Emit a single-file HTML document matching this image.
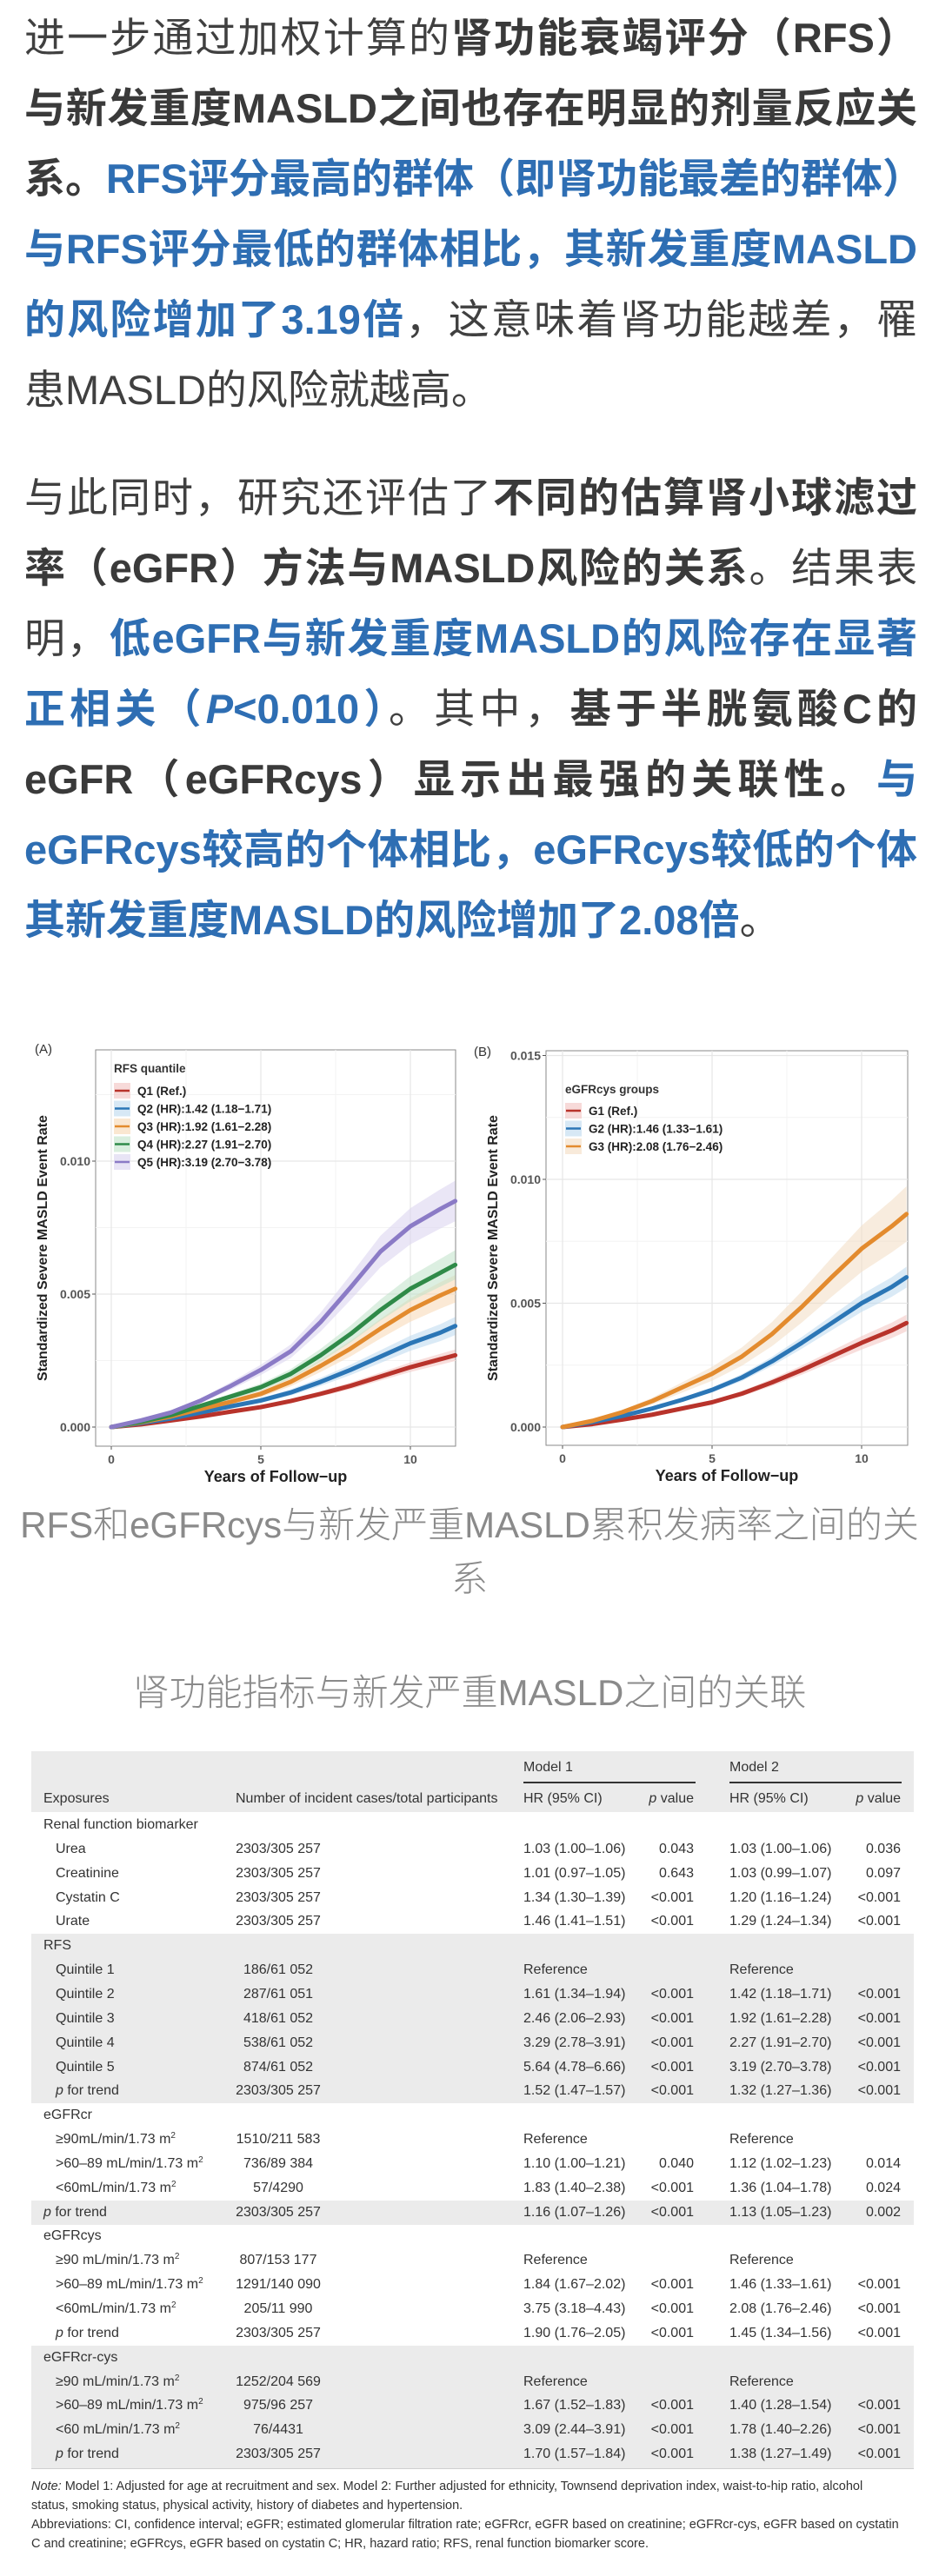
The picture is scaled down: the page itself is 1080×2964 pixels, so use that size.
<!DOCTYPE html>
<html><head><meta charset="utf-8">
<style>
html,body{margin:0;padding:0;background:#fff}
body{width:1080px;height:2964px;position:relative;overflow:hidden;font-family:"Liberation Sans","Noto Sans CJK SC",sans-serif}
.ln{position:absolute;left:28px;width:1027px;height:81px;line-height:81px;font-size:47px;color:#404040;white-space:nowrap;font-family:"Liberation Sans","Noto Sans CJK SC",sans-serif}
.j{text-align:justify;text-align-last:justify}
b{font-weight:bold;color:#3a3a3a}
.bl{color:#2e6eb3;font-weight:bold}
.cap{position:absolute;left:0;width:1080px;text-align:center;font-size:42px;color:#8a8a8a;font-family:"Liberation Sans","Noto Sans CJK SC",sans-serif;font-weight:300}
.t{position:absolute;font-family:"Liberation Sans Narrow","Liberation Sans",sans-serif;font-size:16px;color:#333;white-space:nowrap;line-height:20px;height:20px}
.t sup{font-size:10px;line-height:0;position:relative;top:-6px;vertical-align:baseline}
.shade{position:absolute;left:36px;width:1015px;background:#ebebeb}
.note{position:absolute;left:36px;font-family:"Liberation Sans Narrow","Liberation Sans",sans-serif;font-size:14.5px;color:#333;white-space:nowrap;line-height:20px}
</style></head><body>
<div>
<div class="ln j" style="top:3px">进一步通过加权计算的<b>肾功能衰竭评分（RFS）</b></div>
<div class="ln j" style="top:84px"><b>与新发重度MASLD之间也存在明显的剂量反应关</b></div>
<div class="ln j" style="top:165px"><b>系。</b><span class="bl">RFS评分最高的群体（即肾功能最差的群体）</span></div>
<div class="ln j" style="top:246px"><span class="bl">与RFS评分最低的群体相比，其新发重度MASLD</span></div>
<div class="ln j" style="top:327px"><span class="bl">的风险增加了3.19倍</span>，这意味着肾功能越差，罹</div>
<div class="ln" style="top:408px">患MASLD的风险就越高。</div>
</div>
<div>
<div class="ln j" style="top:532px">与此同时，研究还评估了<b>不同的估算肾小球滤过</b></div>
<div class="ln j" style="top:613px"><b>率（eGFR）方法与MASLD风险的关系</b>。结果表</div>
<div class="ln j" style="top:694px">明，<span class="bl">低eGFR与新发重度MASLD的风险存在显著</span></div>
<div class="ln j" style="top:775px"><span class="bl">正相关（<i>P</i>&lt;0.010）</span>。其中，<b>基于半胱氨酸C的</b></div>
<div class="ln j" style="top:856px"><b>eGFR（eGFRcys）显示出最强的关联性。</b><span class="bl">与</span></div>
<div class="ln j" style="top:937px"><span class="bl">eGFRcys较高的个体相比，eGFRcys较低的个体</span></div>
<div class="ln" style="top:1018px"><span class="bl">其新发重度MASLD的风险增加了2.08倍</span>。</div>
</div>

<svg id="charts" width="1080" height="1720" style="position:absolute;left:0;top:0" xmlns="http://www.w3.org/2000/svg"></svg>

<div class="cap" style="top:1724px;line-height:62px">RFS和eGFRcys与新发严重MASLD累积发病率之间的关<br>系</div>
<div class="cap" style="top:1917px;line-height:62px">肾功能指标与新发严重MASLD之间的关联</div>

<div id="table"></div>

<div class="note" style="top:2851px"><i>Note:</i> Model 1: Adjusted for age at recruitment and sex. Model 2: Further adjusted for ethnicity, Townsend deprivation index, waist-to-hip ratio, alcohol</div>
<div class="note" style="top:2873px">status, smoking status, physical activity, history of diabetes and hypertension.</div>
<div class="note" style="top:2895px">Abbreviations: CI, confidence interval; eGFR; estimated glomerular filtration rate; eGFRcr, eGFR based on creatinine; eGFRcr-cys, eGFR based on cystatin</div>
<div class="note" style="top:2917px">C and creatinine; eGFRcys, eGFR based on cystatin C; HR, hazard ratio; RFS, renal function biomarker score.</div>

<script>
// ---- chart data ----
const years = [0,1,2,3,4,5,6,7,8,9,10,11,11.5];
const seriesA_Q1 = [0,0.10,0.25,0.40,0.58,0.75,0.98,1.25,1.55,1.90,2.25,2.55,2.70];
const seriesA_Q2 = [0,0.15,0.32,0.55,0.78,1.00,1.30,1.70,2.15,2.65,3.15,3.55,3.80];
const seriesA_Q3 = [0,0.18,0.40,0.68,0.95,1.25,1.70,2.30,2.95,3.70,4.40,4.95,5.20];
const seriesA_Q4 = [0,0.20,0.45,0.80,1.15,1.50,2.00,2.70,3.50,4.40,5.20,5.80,6.10];
const seriesA_Q5 = [0,0.25,0.55,1.00,1.55,2.15,2.85,3.95,5.25,6.60,7.55,8.20,8.50];
const seriesB_G1 = [0,0.12,0.30,0.50,0.75,1.00,1.35,1.80,2.30,2.85,3.40,3.90,4.20];
const seriesB_G2 = [0,0.20,0.45,0.75,1.10,1.50,2.00,2.65,3.40,4.20,5.00,5.65,6.05];
const seriesB_G3 = [0,0.25,0.60,1.05,1.60,2.15,2.85,3.75,4.85,6.05,7.20,8.10,8.60];
const legendA = ["Q1 (Ref.)","Q2 (HR):1.42 (1.18\u22121.71)","Q3 (HR):1.92 (1.61\u22122.28)","Q4 (HR):2.27 (1.91\u22122.70)","Q5 (HR):3.19 (2.70\u22123.78)"];
const legendB = ["G1 (Ref.)","G2 (HR):1.46 (1.33\u22121.61)","G3 (HR):2.08 (1.76\u22122.46)"];
const ticksA_y = [0,0.005,0.010];
const ticksB_y = [0,0.005,0.010,0.015];
const ticksX = [0,5,10];
const ciFracA = [0.08,0.09,0.10,0.09,0.09];
const ciFracB = [0.08,0.07,0.13];

const NS="http://www.w3.org/2000/svg";
const svg=document.getElementById('charts');
function mk(tag,attrs,parent){const e=document.createElementNS(NS,tag);for(const k in attrs)e.setAttribute(k,attrs[k]);(parent||svg).appendChild(e);return e;}

function drawChart(cfg){
  const g=mk('g',{});
  
  
  const sx=v=>cfg.x0+(v-0)*cfg.pxYear;
  const sy=v=>cfg.y0-v*cfg.pxUnit;
  mk('rect',{x:cfg.left,y:cfg.top,width:cfg.right-cfg.left,height:cfg.bottom-cfg.top,fill:'#fff',stroke:'#8a8a8a','stroke-width':1},g);
  const ymaxU=(cfg.y0-cfg.top)/cfg.pxUnit;
  for(let v=2.5;v<ymaxU;v+=5) mk('line',{x1:cfg.left,x2:cfg.right,y1:sy(v),y2:sy(v),stroke:'#f3f3f3','stroke-width':1},g);
  for(const v of [2.5,7.5]) mk('line',{x1:sx(v),x2:sx(v),y1:cfg.top,y2:cfg.bottom,stroke:'#f3f3f3','stroke-width':1},g);
  for(const t of cfg.yt){
    const y=sy(t*1000);
    mk('line',{x1:cfg.left,x2:cfg.right,y1:y,y2:y,stroke:'#e6e6e6','stroke-width':1.2},g);
    mk('line',{x1:cfg.left-4,x2:cfg.left,y1:y,y2:y,stroke:'#555','stroke-width':1},g);
    const tx=mk('text',{x:cfg.left-6,y:y+5,'text-anchor':'end','font-size':14,'font-weight':'bold',fill:'#555','font-family':'Liberation Sans, sans-serif'},g);
    tx.textContent=t.toFixed(3);
    
    
  }
  for(const t of ticksX){
    const x=sx(t);
    mk('line',{x1:x,x2:x,y1:cfg.top,y2:cfg.bottom,stroke:'#e6e6e6','stroke-width':1.2},g);
    mk('line',{x1:x,x2:x,y1:cfg.bottom,y2:cfg.bottom+4,stroke:'#555','stroke-width':1},g);
    const tx=mk('text',{x:x,y:cfg.bottom+20,'text-anchor':'middle','font-size':14,'font-weight':'bold',fill:'#555','font-family':'Liberation Sans, sans-serif'},g);
    tx.textContent=t;
    
    
  }
  cfg.series.forEach((s,i)=>{
    const f=cfg.ci[i];
    let up=years.map((y,k)=>sx(y)+','+sy(s[k]*(1+f))).join(' ');
    let lo=years.map((y,k)=>sx(y)+','+sy(s[k]*(1-f))).reverse().join(' ');
    const band=mk('polygon',{points:up+' '+lo,fill:cfg.bands[i],opacity:0.55},g);
    
    
  });
  cfg.series.forEach((s,i)=>{
    const pts=years.map((y,k)=>sx(y)+','+sy(s[k])).join(' ');
    const pl=mk('polyline',{points:pts,fill:'none',stroke:cfg.colors[i],'stroke-width':5,'stroke-linejoin':'round','stroke-linecap':'round'},g);
    
    
  });
  const lt=mk('text',{x:cfg.legX,y:cfg.legTitleY,'font-size':13.5,'font-weight':'bold',fill:'#333','font-family':'Liberation Sans, sans-serif'},g);
  lt.textContent=cfg.legTitle;
  
  
  cfg.legend.forEach((L,i)=>{
    const y=cfg.legY0+i*20.5;
    mk('rect',{x:cfg.legX,y:y-9,width:19,height:18,fill:cfg.bands[i],opacity:0.6},g);
    mk('line',{x1:cfg.legX+1,x2:cfg.legX+18,y1:y,y2:y,stroke:cfg.colors[i],'stroke-width':2.5},g);
    const tx=mk('text',{x:cfg.legX+27,y:y+5,'font-size':13.5,'font-weight':'bold',fill:'#222','font-family':'Liberation Sans, sans-serif'},g);
    tx.textContent=L;
    
    
  });
  const pl=mk('text',{x:cfg.panelX,y:cfg.panelY,'font-size':15,fill:'#333','font-family':'Liberation Sans, sans-serif'},g);
  pl.textContent=cfg.panel;
  
  
  const yt=mk('text',{x:0,y:0,transform:`translate(${cfg.yTitleX},${cfg.yTitleY}) rotate(-90)`,'text-anchor':'middle','font-size':16,'font-weight':'bold',fill:'#222','font-family':'Liberation Sans, sans-serif'},g);
  yt.textContent='Standardized Severe MASLD Event Rate';
  
  
  const xt=mk('text',{x:(cfg.left+cfg.right)/2,y:cfg.bottom+41,'text-anchor':'middle','font-size':18,'font-weight':'bold',fill:'#222','font-family':'Liberation Sans, sans-serif'},g);
  xt.textContent='Years of Follow\u2212up';
  
  
}
drawChart({name:'chart-a-rfs',left:110,right:524,top:1208,bottom:1664,x0:128,pxYear:34.4,y0:1642,pxUnit:30.6,
  yt:ticksA_y,series:[seriesA_Q1,seriesA_Q2,seriesA_Q3,seriesA_Q4,seriesA_Q5],ci:ciFracA,
  colors:['#b8332b','#2b76b6','#e38b2e','#2f8a48','#8b7bc6'],bands:['#f2c2c0','#bcd8ee','#f7d7b2','#bfe2c8','#d9d2ef'],
  lineNames:['line-q1','line-q2','line-q3','line-q4','line-q5'],
  legTitle:'RFS quantile',legend:legendA,legX:131,legTitleY:1234,legY0:1255,panel:'(A)',panelX:40,panelY:1212,yTitleX:54,yTitleY:1436});
drawChart({name:'chart-b-egfrcys',left:628,right:1044,top:1209,bottom:1663,x0:647,pxYear:34.4,y0:1642,pxUnit:28.5,
  yt:ticksB_y,series:[seriesB_G1,seriesB_G2,seriesB_G3],ci:ciFracB,
  colors:['#b8332b','#2b76b6','#e38b2e'],bands:['#f2c2c0','#bcd8ee','#f3dcc2'],
  lineNames:['line-g1','line-g2','line-g3'],
  legTitle:'eGFRcys  groups',legend:legendB,legX:650,legTitleY:1258,legY0:1278,panel:'(B)',panelX:545,panelY:1215,yTitleX:572,yTitleY:1436});

// ---- table ----
const rows=[
 ['Renal function biomarker','','','','','',0],
 ['Urea','2303/305 257','1.03 (1.00\u20131.06)','0.043','1.03 (1.00\u20131.06)','0.036',1],
 ['Creatinine','2303/305 257','1.01 (0.97\u20131.05)','0.643','1.03 (0.99\u20131.07)','0.097',1],
 ['Cystatin C','2303/305 257','1.34 (1.30\u20131.39)','<0.001','1.20 (1.16\u20131.24)','<0.001',1],
 ['Urate','2303/305 257','1.46 (1.41\u20131.51)','<0.001','1.29 (1.24\u20131.34)','<0.001',1],
 ['RFS','','','','','',0],
 ['Quintile 1','186/61 052','Reference','','Reference','',1],
 ['Quintile 2','287/61 051','1.61 (1.34\u20131.94)','<0.001','1.42 (1.18\u20131.71)','<0.001',1],
 ['Quintile 3','418/61 052','2.46 (2.06\u20132.93)','<0.001','1.92 (1.61\u20132.28)','<0.001',1],
 ['Quintile 4','538/61 052','3.29 (2.78\u20133.91)','<0.001','2.27 (1.91\u20132.70)','<0.001',1],
 ['Quintile 5','874/61 052','5.64 (4.78\u20136.66)','<0.001','3.19 (2.70\u20133.78)','<0.001',1],
 ['<i>p</i> for trend','2303/305 257','1.52 (1.47\u20131.57)','<0.001','1.32 (1.27\u20131.36)','<0.001',1],
 ['eGFRcr','','','','','',0],
 ['\u226590mL/min/1.73 m<sup>2</sup>','1510/211 583','Reference','','Reference','',1],
 ['>60\u201389 mL/min/1.73 m<sup>2</sup>','736/89 384','1.10 (1.00\u20131.21)','0.040','1.12 (1.02\u20131.23)','0.014',1],
 ['<60mL/min/1.73 m<sup>2</sup>','57/4290','1.83 (1.40\u20132.38)','<0.001','1.36 (1.04\u20131.78)','0.024',1],
 ['<i>p</i> for trend','2303/305 257','1.16 (1.07\u20131.26)','<0.001','1.13 (1.05\u20131.23)','0.002',0],
 ['eGFRcys','','','','','',0],
 ['\u226590 mL/min/1.73 m<sup>2</sup>','807/153 177','Reference','','Reference','',1],
 ['>60\u201389 mL/min/1.73 m<sup>2</sup>','1291/140 090','1.84 (1.67\u20132.02)','<0.001','1.46 (1.33\u20131.61)','<0.001',1],
 ['<60mL/min/1.73 m<sup>2</sup>','205/11 990','3.75 (3.18\u20134.43)','<0.001','2.08 (1.76\u20132.46)','<0.001',1],
 ['<i>p</i> for trend','2303/305 257','1.90 (1.76\u20132.05)','<0.001','1.45 (1.34\u20131.56)','<0.001',1],
 ['eGFRcr-cys','','','','','',0],
 ['\u226590 mL/min/1.73 m<sup>2</sup>','1252/204 569','Reference','','Reference','',1],
 ['>60\u201389 mL/min/1.73 m<sup>2</sup>','975/96 257','1.67 (1.52\u20131.83)','<0.001','1.40 (1.28\u20131.54)','<0.001',1],
 ['<60 mL/min/1.73 m<sup>2</sup>','76/4431','3.09 (2.44\u20133.91)','<0.001','1.78 (1.40\u20132.26)','<0.001',1],
 ['<i>p</i> for trend','2303/305 257','1.70 (1.57\u20131.84)','<0.001','1.38 (1.27\u20131.49)','<0.001',1]
];
const tb=document.getElementById('table');
function add(html,style,name,cls){const d=document.createElement('div');d.className=cls||'t';d.style.cssText=style;d.innerHTML=html;
  
  
  tb.appendChild(d);return d;}
const rowY=i=>2100+i*27.85;
add('','top:2015px;height:70px','table-header-bg','shade');
add('','top:'+(rowY(5)-14)+'px;height:'+(rowY(11)-rowY(5)+28)+'px','rfs-block-bg','shade');
add('','top:'+(rowY(16)-14)+'px;height:28px','egfrcr-trend-bg','shade');
add('','top:'+(rowY(22)-14)+'px;height:'+(2840-rowY(22)+14)+'px;border-bottom:1px solid #cfcfcf','egfrcr-cys-block-bg','shade');
add('Model 1','left:602px;top:2024px','model1-header');
add('Model 2','left:839px;top:2024px','model2-header');
add('','left:602px;top:2050px;width:198px;height:0;border-top:2px solid #333','model1-rule');
add('','left:839px;top:2050px;width:198px;height:0;border-top:2px solid #333','model2-rule');
add('Exposures','left:50px;top:2060px','col-exposures');
add('Number of incident cases/total participants','left:271px;top:2060px','col-cases');
add('HR (95% CI)','left:602px;top:2060px','col-hr1');
add('<i>p</i> value','left:740px;top:2060px;width:58px;text-align:right','col-p1');
add('HR (95% CI)','left:839px;top:2060px','col-hr2');
add('<i>p</i> value','left:978px;top:2060px;width:58px;text-align:right','col-p2');
rows.forEach((r,i)=>{
  const top=rowY(i)-10;
  const indent=r[6]?64:50;
  add(r[0],`left:${indent}px;top:${top}px`,'row-label');
  if(r[1]) add(r[1],`left:260px;top:${top}px;width:120px;text-align:center`,'cases-cell');
  if(r[2]) add(r[2],`left:602px;top:${top}px`,'hr1-cell');
  if(r[3]) add(r[3],`left:720px;top:${top}px;width:78px;text-align:right`,'p1-cell');
  if(r[4]) add(r[4],`left:839px;top:${top}px`,'hr2-cell');
  if(r[5]) add(r[5],`left:958px;top:${top}px;width:78px;text-align:right`,'p2-cell');
});
</script>
</body></html>
